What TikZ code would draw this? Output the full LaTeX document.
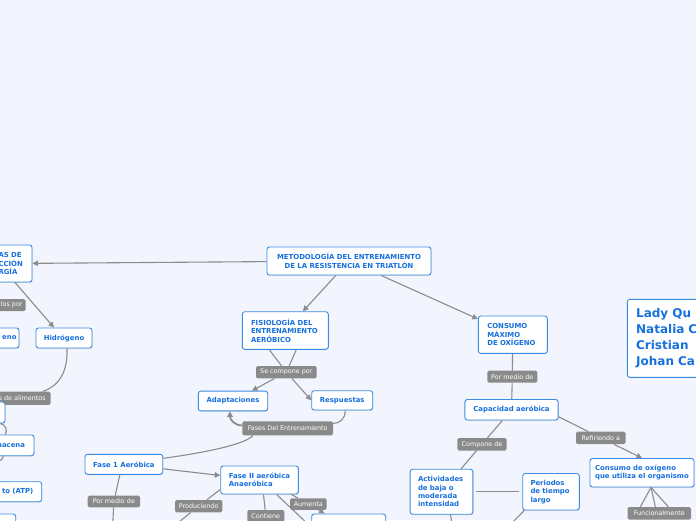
\documentclass[tikz,border=0pt]{standalone}
\usepackage{fontspec}
\setmainfont{DejaVu Sans}
\usepackage{xcolor}
\usepackage{tikz}
\usetikzlibrary{arrows.meta, shadows}
\definecolor{mapbg}{RGB}{242,245,253}
\definecolor{topicblue}{RGB}{58,139,228}
\definecolor{topictext}{RGB}{22,112,222}
\definecolor{linkgray}{RGB}{140,140,140}
\definecolor{labelgray}{RGB}{138,138,138}
\tikzstyle{arrow} = [draw=linkgray, line width=1.1pt, -{Triangle[length=5.5pt,width=5.5pt]}]
\tikzstyle{conn}  = [draw=linkgray, line width=1.1pt]
\tikzstyle{topic} = [rectangle, draw=topicblue, line width=0.9pt, fill=white, rounded corners=2.5pt, text=topictext, font=\fontsize{6.9}{8.4}\selectfont\bfseries, inner sep=0pt, drop shadow={opacity=0.25, shadow xshift=0.5pt, shadow yshift=-0.8pt}]
\tikzstyle{lbl}   = [rectangle, fill=labelgray, rounded corners=1.5pt, text=white, font=\fontsize{6.4}{7.5}\selectfont, inner sep=0pt]
\tikzset{every node/.style={align=center}}

\begin{document}
\begin{tikzpicture}[x=1pt, y=-1pt]
    \useasboundingbox (0,0) rectangle (696,520);
    \clip (0,0) rectangle (696,520);
    \fill[mapbg] (0,0) rectangle (696,520);

    % centre and left branch
    \node (main)      at (349,261)     [topic, minimum width=164pt, minimum height=28pt] {METODOLOGÍA DEL ENTRENAMIENTO\\DE LA RESISTENCIA EN TRIATLÓN};
    \node (energia)   at (12,263.5)    [topic, minimum width=40pt, minimum height=37pt, text width=27pt, align=left] {AS DE\\CCIÓN\\RGÍA};
    \node (lospor)    at (11.75,305)   [lbl, minimum width=27.5pt, minimum height=12pt] {los por};
    \node (hidro)     at (64,338)      [topic, minimum width=56pt, minimum height=20pt] {Hidrógeno};
    \node (oxigeno)   at (-1,338)      [topic, minimum width=40pt, minimum height=20pt, text width=35pt, align=right] {eno};
    \node (alimentos) at (22.25,398.3) [lbl, minimum width=56.5pt, minimum height=13.3pt] {s de alimentos};
    \node (reserva)   at (-12.5,412.5) [topic, minimum width=35pt, minimum height=21pt] {};
    \node (almacena)  at (-6,445.35)   [topic, minimum width=80pt, minimum height=20.7pt, text width=62pt, align=right] {macena};
    \node (atp)       at (-4,491.7)    [topic, minimum width=91.4pt, minimum height=20pt, text width=74.6pt, align=right] {to (ATP)};
    \node (energiab)  at (-10,527)     [topic, minimum width=51.4pt, minimum height=26pt] {};

    % fisiologia branch
    \node (fisio)     at (285.3,330.5) [topic, minimum width=86pt, minimum height=37.6pt, text width=68.6pt, align=left] {FISIOLOGÍA DEL\\ENTRENAMIENTO\\AERÓBICO};
    \node (secompone) at (286.35,372.15) [lbl, minimum width=60.7pt, minimum height=12.3pt] {Se compone por};
    \node (adapt)     at (233,401)     [topic, minimum width=69.4pt, minimum height=19.7pt] {Adaptaciones};
    \node (resp)      at (342.2,400.35) [topic, minimum width=61pt, minimum height=19.3pt] {Respuestas};
    \node (fases)     at (287.65,428.4) [lbl, minimum width=90.7pt, minimum height=14pt] {Fases Del Entrenamiento};
    \node (fase1)     at (123.85,464.3) [topic, minimum width=77.7pt, minimum height=20pt] {Fase 1 Aeróbica};
    \node (fase2)     at (259.5,480)   [topic, minimum width=77.6pt, minimum height=28pt, align=left] {Fase II aeróbica\\Anaeróbica};
    \node (pormedio1) at (113.85,501.5) [lbl, minimum width=52.3pt, minimum height=11.6pt] {Por medio de};
    \node (produc)    at (198.65,506.15) [lbl, minimum width=47.3pt, minimum height=12.3pt] {Produciendo};
    \node (contiene)  at (265.8,516)   [lbl, minimum width=37pt, minimum height=12pt] {Contiene};
    \node (aumenta)   at (308.35,504)  [lbl, minimum width=36.7pt, minimum height=11.5pt] {Aumenta};
    \node (aumento)   at (348.7,528)   [topic, minimum width=74pt, minimum height=28pt] {};

    % consumo branch
    \node (cmax)      at (512.8,334.65) [topic, minimum width=69pt, minimum height=37.3pt, text width=51pt, align=left] {CONSUMO\\MÁXIMO\\DE OXÍGENO};
    \node (pormedio2) at (512.3,376.7) [lbl, minimum width=50pt, minimum height=12pt] {Por medio de};
    \node (capac)     at (511.5,409.75) [topic, minimum width=93.3pt, minimum height=20.5pt] {Capacidad aeróbica};
    \node (componede) at (482,444.25)  [lbl, minimum width=49.4pt, minimum height=12.5pt] {Compone de};
    \node (refiere)   at (600.85,437.85) [lbl, minimum width=49.7pt, minimum height=12.3pt] {Refiriendo a};
    \node (activ)     at (441.5,491.75) [topic, minimum width=62.7pt, minimum height=45pt, text width=47pt, align=left] {Actividades\\de baja o\\moderada\\intensidad};
    \node (periodos)  at (551,491.75)  [topic, minimum width=56.6pt, minimum height=36.5pt, text width=41pt, align=left] {Periodos\\de tiempo\\largo};
    \node (consumo)   at (642,472.75)  [topic, minimum width=104pt, minimum height=28.5pt, align=left] {Consumo de oxígeno\\que utiliza el organismo};
    \node (funcional) at (659.35,513.25) [lbl, minimum width=63.3pt, minimum height=12.5pt] {Funcionalmente};

    \node (equipo)    at (693.65,338.3) [topic, minimum width=132.7pt, minimum height=78pt, text width=115pt, align=left, font=\fontsize{12}{16}\selectfont\bfseries] {Lady Qu\\Natalia C\\Cristian\\Johan Ca};

    \coordinate (offa) at (112,540);
    \coordinate (offb) at (174,526);
    \coordinate (offc) at (310,526);
    \coordinate (offd) at (453,530);
    \coordinate (offe) at (507,528);

    \draw [arrow] (main) -- (energia);
    \draw [arrow] (main) -- (fisio);
    \draw [arrow] (main) -- (cmax);

    \draw [arrow] ([xshift=3pt]energia.south) -- ([xshift=-10pt]hidro.north);
    \draw [conn] ([xshift=3pt]hidro.south) .. controls +(1,25) and +(15,-5) .. ([xshift=-8pt]alimentos.north east);
    \draw [conn] ([xshift=-6pt]reserva.south east) .. controls +(7,1) and +(2,-4) .. ([xshift=-29pt]almacena.north east);
    \draw [conn] ([xshift=-31pt]almacena.south east) .. controls +(0,6) and +(10,-8) .. ([xshift=-30pt]atp.north);

    \draw [conn] ([xshift=-16pt]fisio.south) -- (secompone);
    \draw [conn] ([xshift=11pt]fisio.south) -- (secompone);
    \draw [arrow] (secompone) -- (adapt);
    \draw [arrow] (secompone) -- (resp.west);
    \draw [conn] ([xshift=3pt]resp.south) .. controls +(0,9) and +(6,0) .. ([yshift=5pt]fases.east);
    \draw [arrow, line width=1.8pt] ([yshift=3pt]fases.west) .. controls +(-8,0) and +(0,8) .. ([xshift=-3pt]adapt.south);
    \draw [conn] ([xshift=-35pt]fases.south) .. controls +(-6,8) and +(45,-6) .. ([yshift=6pt]fase1.east);

    \draw [arrow] (fase1) -- (fase2);
    \draw [conn] ([xshift=-4pt]fase1.south) -- (pormedio1);
    \draw [conn] (pormedio1) -- (offa);
    \draw [conn] ([yshift=5pt]fase2.south west) -- (produc);
    \draw [conn] (produc) -- (offb);
    \draw [conn] ([xshift=4pt]fase2.south) -- (contiene);
    \draw [conn] ([xshift=17pt]fase2.south) -- (offc);
    \draw [conn] ([xshift=32pt]fase2.south) -- (aumenta);
    \draw [arrow] (aumenta) -- ([xshift=-24pt]aumento.north);

    \draw [conn] (cmax) -- (pormedio2);
    \draw [conn] (pormedio2) -- (capac);
    \draw [conn] (capac) -- (componede);
    \draw [conn] (componede) -- (activ);
    \draw [conn] ([yshift=-7pt]capac.east) -- (refiere);
    \draw [arrow] (refiere) -- (consumo.north);
    \draw [conn, shorten <=3pt, shorten >=3pt] (activ) -- (periodos);
    \draw [conn] ([xshift=9pt]activ.south) -- (offd);
    \draw [conn] ([xshift=2pt]periodos.south west) -- (offe);
    \draw [conn] ([xshift=9pt]consumo.south) -- ([xshift=-19pt]funcional.north);
    \draw [conn] ([xshift=9pt]consumo.south) -- ([xshift=-4pt]funcional.north);
    \draw [conn] ([xshift=9pt]consumo.south) -- ([xshift=9pt]funcional.north);
\end{tikzpicture}
\end{document}
